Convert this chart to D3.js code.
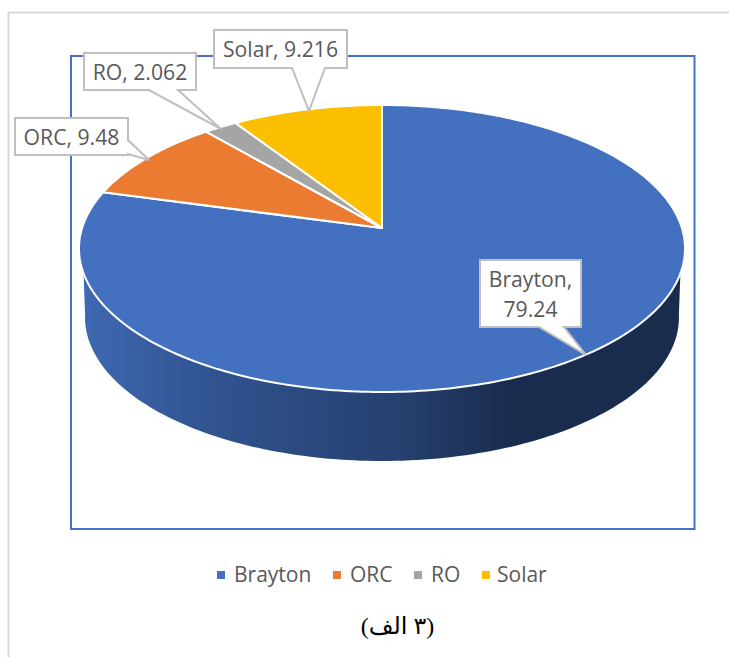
<!DOCTYPE html>
<html><head><meta charset="utf-8">
<script src="https://cdn.jsdelivr.net/npm/d3@7"></script>
<style>html,body{margin:0;padding:0;background:#fff;overflow:hidden}svg{display:block}</style>
</head><body><svg id="c" width="729" height="657"></svg>
<script>
const categories = ["Brayton","ORC","RO","Solar"];
const values = [79.24,9.48,2.062,9.216];
const colors = ["#4371c0","#eb7b30","#a5a5a5","#fcbf00"];
const caption = "(٣ الف)";
const font = "'Open Sans', sans-serif";

const svg = d3.select("#c");
svg.append("path").attr("d","M729,12.5H8.5V657").attr("fill","none").attr("stroke","#d9d9d9").attr("stroke-width",2);
svg.append("rect").attr("x",71).attr("y",56).attr("width",623.5).attr("height",473)
  .attr("fill","none").attr("stroke","#4472c4").attr("stroke-width",2);

// perspective disc
const cx=382, cy=228, k=-1/7, by=140.57, ax=299.9;
const proj=(a,dy=0,sx=1)=>{const u=Math.sin(a),v=-Math.cos(a),d=1+k*v;
  return [cx+sx*ax*u/d, cy+by*v/d+dy];};
const sample=(a0,a1,n)=>d3.range(n+1).map(i=>a0+(a1-a0)*i/n);
const line=d3.line();

// side wall
const defs=svg.append("defs");
const grad=defs.append("linearGradient").attr("id","side").attr("gradientUnits","userSpaceOnUse")
  .attr("x1",79).attr("x2",685).attr("y1",0).attr("y2",0);
[[0,"#3f69b3"],[0.23,"#30528e"],[0.53,"#26406f"],[0.71,"#1a2c4e"],[1,"#1a2c4e"]]
 .forEach(s=>grad.append("stop").attr("offset",s[0]).attr("stop-color",s[1]));
const depth=69, sx=0.98;
const topEdge=sample(Math.PI*0.6,Math.PI*1.4,140).map(a=>proj(a));
const botEdge=sample(Math.PI*1.46,Math.PI*0.54,140).map(a=>proj(a,depth,sx));
svg.append("path").attr("d",line(topEdge.concat(botEdge))+"Z").attr("fill","url(#side)");

// top slices
const pie=d3.pie().sort(null).value(d=>d)(values);
svg.append("g").selectAll("path").data(pie).join("path")
  .attr("d",d=>{const arc=sample(d.startAngle,d.endAngle,Math.max(8,Math.ceil((d.endAngle-d.startAngle)*60))).map(a=>proj(a));
    return line([[cx,cy],...arc])+"Z";})
  .attr("fill",(d,i)=>colors[i]).attr("stroke","#fff").attr("stroke-width",2).attr("stroke-linejoin","round");

// callouts
const callouts=[
 {lines:[categories[3]+", "+values[3]],box:[214,30,133,38],ptr:[[325,68],[309,111],[292,68]]},
 {lines:[categories[2]+", "+values[2]],box:[84,53,112,37],ptr:[[178,90],[221,129],[149,90]]},
 {lines:[categories[1]+", "+values[1]],box:[15,118,113,37],ptr:[[128,154],[149,160],[128,140]],side:1},
 {lines:[categories[0]+",",String(values[0])],box:[480,260,101,67],ptr:[[564,327],[586,355],[539,327]]}
];
const cg=svg.append("g").selectAll("g").data(callouts).join("g");
cg.append("path").attr("d",d=>{
  const [x,y,w,h]=d.box,p=d.ptr;
  if(d.side) return line([[x,y],[x+w,y],p[2],p[1],p[0],[x+w,y+h],[x,y+h]])+"Z";
  return line([[x,y],[x+w,y],[x+w,y+h],p[0],p[1],p[2],[x,y+h]])+"Z";})
  .attr("fill","#fff").attr("stroke","#bfbfbf").attr("stroke-width",2);
cg.each(function(d){
  const [x,y,w,h]=d.box, g=d3.select(this), lh=30, n=d.lines.length;
  d.lines.forEach((t,i)=>g.append("text").attr("x",x+w/2).attr("y",y+h/2+(i-(n-1)/2)*lh+8)
    .attr("text-anchor","middle").attr("font-family",font).attr("font-size",21.2).attr("fill","#595959").text(t));
});

// legend
const legendX=[217,333,414,482];
const legendTextX=[234,350,431,497];
const lg=svg.append("g").selectAll("g").data(categories).join("g");
lg.append("rect").attr("x",(d,i)=>legendX[i]).attr("y",571).attr("width",8).attr("height",8).attr("fill",(d,i)=>colors[i]);
lg.append("text").attr("x",(d,i)=>legendTextX[i]).attr("y",582).attr("font-family",font).attr("font-size",21).attr("fill","#595959").text(d=>d);

// caption
svg.append("text").attr("x",397.5).attr("y",634).attr("text-anchor","middle").attr("direction","rtl")
  .attr("font-family","'Liberation Serif','DejaVu Sans',serif").attr("font-size",24).attr("fill","#000").text(caption);
</script></body></html>
